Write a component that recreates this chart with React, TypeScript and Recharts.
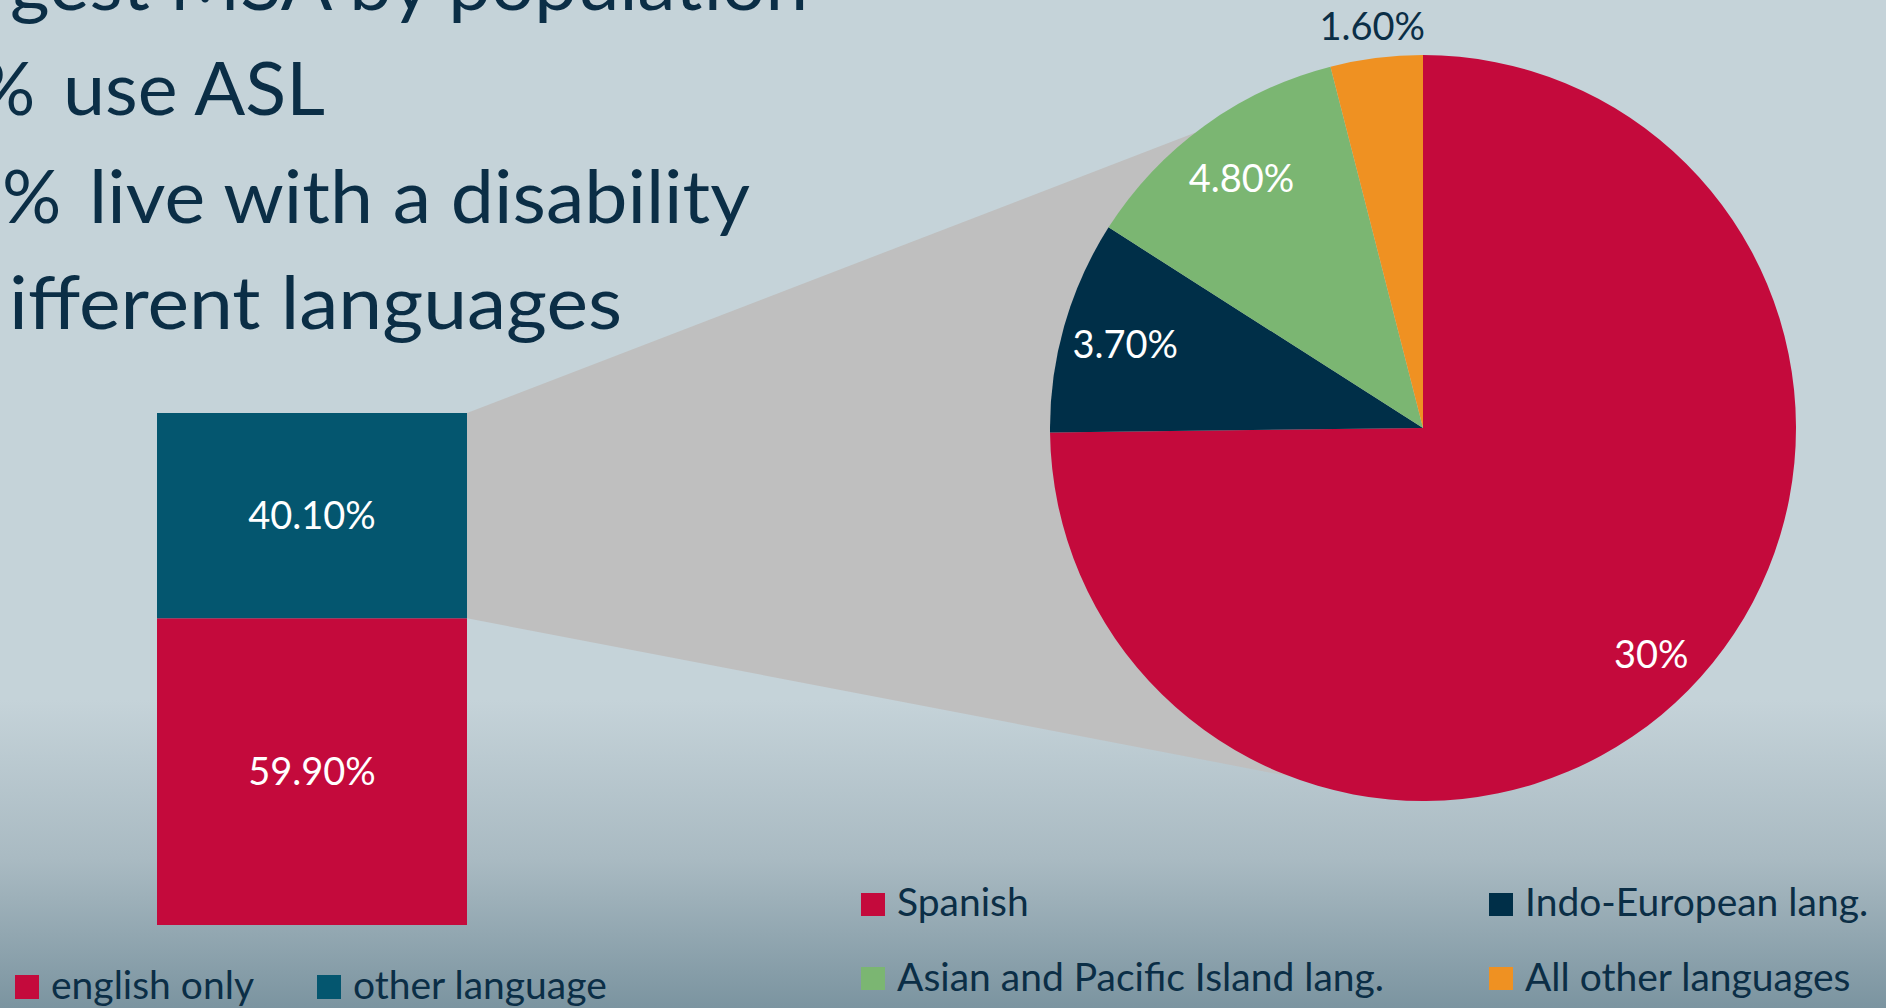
import React from 'react';
import { BarChart, Bar, XAxis, YAxis, LabelList, PieChart, Pie, Cell } from 'recharts';

// ---------- data ----------
const barCategories = ['Households'];
const englishOnly = [59.9];
const otherLanguage = [40.1];
const barSeriesNames = ['english only', 'other language'];

const pieNames = ['Spanish', 'Indo-European lang.', 'Asian and Pacific Island lang.', 'All other languages'];
const pieValues = [30, 3.7, 4.8, 1.6];

const titleLines = ['gest MSA by population', 'use ASL', 'live with a disability', 'ifferent languages'];

// ---------- styles ----------
const W = 1886;
const H = 1008;
const RED = '#c40a3c';
const TEAL = '#04566f';
const NAVY = '#002f48';
const GREEN = '#7bb672';
const ORANGE = '#ef9122';
const GRAY = '#bfbfbf';
const TEXT = '#0b2e46';
const pieColors = [RED, NAVY, GREEN, ORANGE];
const barColors = [RED, TEAL];
const FONT = 'Lato, "Open Sans", sans-serif';

const barLeft = 157;
const barRight = 467;
const barTop = 413;
const barBottom = 925;

const pieCx = 1423;
const pieCy = 428;
const pieR = 373;

const barData = barCategories.map((c, i) => ({ name: c, english: englishOnly[i], other: otherLanguage[i] }));
const pieData = pieNames.map((n, i) => ({ name: n, value: pieValues[i] }));

const fmtPct = (v: any) => {
  const n = Number(v);
  return Number.isInteger(n) ? `${n}%` : `${n.toFixed(2)}%`;
};

const RAD = Math.PI / 180;
const renderPieLabel = (props: any) => {
  const { cx, cy, midAngle, outerRadius, percent, value } = props;
  const outside = percent < 0.05;
  const r = outside ? outerRadius * 1.09 : outerRadius * (percent > 0.5 ? 0.86 : 0.83);
  const x = cx + r * Math.cos(-midAngle * RAD);
  const y = cy + r * Math.sin(-midAngle * RAD);
  return (
    <text x={x} y={y} fill={outside ? TEXT : '#ffffff'} textAnchor="middle" dominantBaseline="central"
      fontSize={38} fontFamily={FONT}>
      {fmtPct(value)}
    </text>
  );
};

const circlePt = (deg: number) => [pieCx + pieR * Math.cos(-deg * RAD), pieCy + pieR * Math.sin(-deg * RAD)];

export default function App() {
  const splitY = barBottom - ((barBottom - barTop) * englishOnly[0]) / 100;
  const pTop = circlePt(127.7);
  const pBot = circlePt(-111);
  const poly = [
    [barRight, barTop],
    pTop,
    [pieCx, pieCy],
    pBot,
    [barRight, splitY],
  ]
    .map((p) => p.join(','))
    .join(' ');

  return (
    <div
      style={{
        position: 'absolute',
        left: 0,
        top: 0,
        width: W,
        height: H,
        overflow: 'hidden',
        background: 'linear-gradient(to bottom, #c5d3d9 0px, #c5d3d9 700px, #a9bac2 860px, #7b94a0 1008px)',
        fontFamily: FONT,
      }}
    >
      {/* title & connector */}
      <svg width={W} height={H} style={{ position: 'absolute', left: 0, top: 0 }}>
        <polygon points={poly} fill={GRAY} />
        <g fill={TEXT} fontFamily={FONT} fontSize={74}>
          <text x={10} y={10} textLength={798} lengthAdjust="spacingAndGlyphs">{titleLines[0]}</text>
          <text y={115}>
            <tspan x={-24}>%</tspan>
          </text>
          <text x={63} y={115} textLength={262} lengthAdjust="spacingAndGlyphs">{titleLines[1]}</text>
          <text y={223}>
            <tspan x={2}>%</tspan>
          </text>
          <text x={89} y={223} textLength={661} lengthAdjust="spacingAndGlyphs">{titleLines[2]}</text>
          <text x={9} y={329} textLength={613} lengthAdjust="spacingAndGlyphs">{titleLines[3]}</text>
        </g>
      </svg>

      {/* stacked bar */}
      <div style={{ position: 'absolute', left: 0, top: 0 }}>
        <BarChart
          width={barRight + 40}
          height={H}
          data={barData}
          margin={{ top: barTop, bottom: H - barBottom, left: barLeft, right: 40 }}
          barCategoryGap={0}
        >
          <XAxis dataKey="name" hide />
          <YAxis hide domain={[0, 100]} />
          <Bar dataKey="english" name={barSeriesNames[0]} stackId="a" fill={barColors[0]} isAnimationActive={false}>
            <LabelList dataKey="english" position="center" formatter={fmtPct} fill="#ffffff" fontSize={38} fontFamily={FONT} />
          </Bar>
          <Bar dataKey="other" name={barSeriesNames[1]} stackId="a" fill={barColors[1]} isAnimationActive={false}>
            <LabelList dataKey="other" position="center" formatter={fmtPct} fill="#ffffff" fontSize={38} fontFamily={FONT} />
          </Bar>
        </BarChart>
      </div>

      {/* pie */}
      <div style={{ position: 'absolute', left: 0, top: 0 }}>
        <PieChart width={W} height={880} margin={{ top: 0, right: 0, bottom: 0, left: 0 }}>
          <Pie
            data={pieData}
            dataKey="value"
            nameKey="name"
            cx={pieCx}
            cy={pieCy}
            outerRadius={pieR}
            startAngle={90}
            endAngle={-270}
            stroke="none"
            label={renderPieLabel}
            labelLine={false}
            isAnimationActive={false}
          >
            {pieData.map((d, i) => (
              <Cell key={d.name} fill={pieColors[i]} />
            ))}
          </Pie>
        </PieChart>
      </div>

      {/* legends */}
      <svg width={W} height={H} style={{ position: 'absolute', left: 0, top: 0 }}>
        <g fontFamily={FONT} fontSize={39} fill={TEXT}>
          {barSeriesNames.map((n, i) => {
            const sx = [15, 317][i];
            return (
              <g key={n}>
                <rect x={sx} y={975} width={24} height={24} fill={barColors[i]} />
                <text x={sx + 36} y={999}>{n}</text>
              </g>
            );
          })}
          {pieNames.map((n, i) => {
            const sx = [861, 1489][i % 2];
            const row = Math.floor(i / 2);
            const sy = [893, 967][row];
            const by = [916, 991][row];
            return (
              <g key={n}>
                <rect x={sx} y={sy} width={24} height={23} fill={pieColors[i]} />
                <text x={sx + 36} y={by}>{n}</text>
              </g>
            );
          })}
        </g>
      </svg>
    </div>
  );
}
